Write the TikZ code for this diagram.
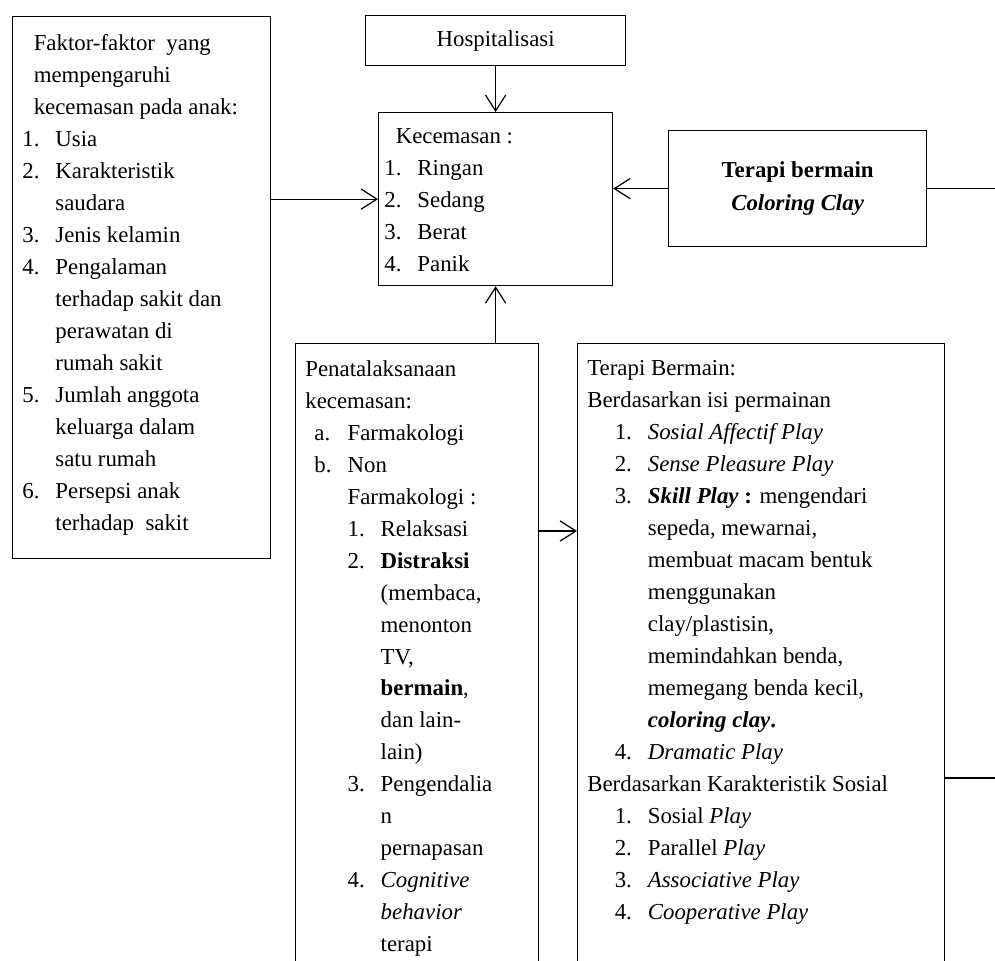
\documentclass[tikz,border=0pt]{standalone}
\usepackage{fontspec}
\setmainfont{Liberation Serif}
\usetikzlibrary{arrows.meta,positioning}

\newcommand{\li}[2]{\makebox[1.45em][l]{#1}#2}
\newcommand{\lc}[1]{\hspace*{1.45em}#1}

\begin{document}
\begin{tikzpicture}[
x=0.02cm, y=-0.02cm,
every node/.style={font=\fontsize{13}{18.2}\selectfont},
frame/.style={draw, line width=0.7pt, inner sep=0pt, anchor=north west},
txt/.style={anchor=north west, align=left, inner sep=0pt},
arrow/.style={-{Straight Barb[length=9pt,width=11.5pt]}, line width=0.7pt}
]
\useasboundingbox (0,0) rectangle (995,961);
\clip (0,0) rectangle (995,961);

% boxes
\node[frame, minimum width=258*0.02cm, minimum height=542*0.02cm] (faktor) at (12,16) {};
\node[frame, minimum width=260*0.02cm, minimum height=50*0.02cm] (hosp) at (365,15) {};
\node[frame, minimum width=234*0.02cm, minimum height=173*0.02cm] (kec) at (378,112) {};
\node[frame, minimum width=258*0.02cm, minimum height=116*0.02cm] (terapi) at (668,130) {};
\node[frame, minimum width=243*0.02cm, minimum height=700*0.02cm] (pena) at (295,343) {};
\node[frame, minimum width=367*0.02cm, minimum height=700*0.02cm] (bermain) at (577,343) {};

% texts
\node[txt] (faktortxt) at (22,34) {\hspace*{0.5em}Faktor-faktor\ \ yang\\
\hspace*{0.5em}mempengaruhi\\
\hspace*{0.5em}kecemasan pada anak:\\
\li{1.}{Usia}\\
\li{2.}{Karakteristik}\\
\lc{saudara}\\
\li{3.}{Jenis kelamin}\\
\li{4.}{Pengalaman}\\
\lc{terhadap sakit dan}\\
\lc{perawatan di}\\
\lc{rumah sakit}\\
\li{5.}{Jumlah anggota}\\
\lc{keluarga dalam}\\
\lc{satu rumah}\\
\li{6.}{Persepsi anak}\\
\lc{terhadap\ \ sakit}};

\node at (hosp.center) (hosptxt) {Hospitalisasi};

\node[txt] (kectxt) at (384,128) {\hspace*{0.5em}Kecemasan :\\
\li{1.}{Ringan}\\
\li{2.}{Sedang}\\
\li{3.}{Berat}\\
\li{4.}{Panik}};

\node[align=center, font=\fontsize{13}{19}\selectfont] (terapitxt) at (terapi.center) {\textbf{Terapi bermain}\\ \textbf{\textit{Coloring Clay}}};

\node[txt] (penatxt) at (305,360) {Penatalaksanaan\\
kecemasan:\\
\hspace*{0.4em}\li{a.}{Farmakologi}\\
\hspace*{0.4em}\li{b.}{Non}\\
\hspace*{0.4em}\lc{Farmakologi :}\\
\hspace*{0.4em}\lc{\li{1.}{Relaksasi}}\\
\hspace*{0.4em}\lc{\li{2.}{\textbf{Distraksi}}}\\
\hspace*{0.4em}\lc{\lc{(membaca,}}\\
\hspace*{0.4em}\lc{\lc{menonton}}\\
\hspace*{0.4em}\lc{\lc{TV,}}\\
\hspace*{0.4em}\lc{\lc{\textbf{bermain},}}\\
\hspace*{0.4em}\lc{\lc{dan lain-}}\\
\hspace*{0.4em}\lc{\lc{lain)}}\\
\hspace*{0.4em}\lc{\li{3.}{Pengendalia}}\\
\hspace*{0.4em}\lc{\lc{n}}\\
\hspace*{0.4em}\lc{\lc{pernapasan}}\\
\hspace*{0.4em}\lc{\li{4.}{\textit{Cognitive}}}\\
\hspace*{0.4em}\lc{\lc{\textit{behavior}}}\\
\hspace*{0.4em}\lc{\lc{terapi}}};

\node[txt] (bermaintxt) at (587,360) {Terapi Bermain:\\
Berdasarkan isi permainan\\
\hspace*{1.2em}\li{1.}{\textit{Sosial Affectif Play}}\\
\hspace*{1.2em}\li{2.}{\textit{Sense Pleasure Play}}\\
\hspace*{1.2em}\li{3.}{\textbf{\textit{Skill Play}} \textbf{:} mengendari}\\
\hspace*{1.2em}\lc{sepeda, mewarnai,}\\
\hspace*{1.2em}\lc{membuat macam bentuk}\\
\hspace*{1.2em}\lc{menggunakan}\\
\hspace*{1.2em}\lc{clay/plastisin,}\\
\hspace*{1.2em}\lc{memindahkan benda,}\\
\hspace*{1.2em}\lc{memegang benda kecil,}\\
\hspace*{1.2em}\lc{\textbf{\textit{coloring clay}.}}\\
\hspace*{1.2em}\li{4.}{\textit{Dramatic Play}}\\
Berdasarkan Karakteristik Sosial\\
\hspace*{1.2em}\li{1.}{Sosial \textit{Play}}\\
\hspace*{1.2em}\li{2.}{Parallel \textit{Play}}\\
\hspace*{1.2em}\li{3.}{\textit{Associative Play}}\\
\hspace*{1.2em}\li{4.}{\textit{Cooperative Play}}};

% free ends at the page edge
\coordinate (edge1) at (995,0);
\coordinate (edge2) at (995,778);
\coordinate (mid) at (0,531);

% connectors
\draw[arrow] (hosp.south) -- (hosp.south |- kec.north);
\draw[arrow] (faktor.east |- kec.west) -- (kec.west);
\draw[arrow] (terapi.west) -- (kec.east |- terapi.west);
\draw[arrow] (pena.north -| hosp.south) -- (kec.south -| hosp.south);
\draw[arrow] (pena.east |- mid) -- (bermain.west |- mid);
\draw[line width=0.7pt] (terapi.east) -- (edge1 |- terapi.east);
\draw[line width=0.7pt] (bermain.east |- edge2) -- (edge2);

\end{tikzpicture}
\end{document}
